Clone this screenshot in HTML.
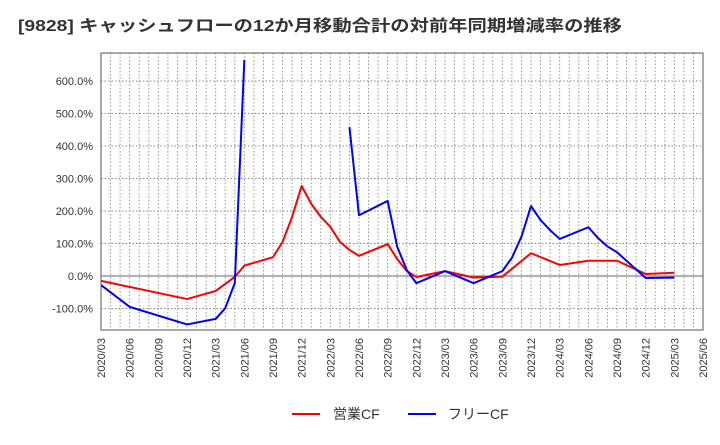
<!DOCTYPE html>
<html><head><meta charset="utf-8">
<style>
body{margin:0;background:#fff;width:720px;height:440px;overflow:hidden;font-family:"Liberation Sans","Noto Sans CJK JP",sans-serif;}
</style></head>
<body>
<svg id="chart" width="720" height="440" xmlns="http://www.w3.org/2000/svg" font-family="Liberation Sans, Noto Sans CJK JP, sans-serif">
<text x="18" y="31" font-size="16" font-weight="bold" fill="#333" textLength="604" lengthAdjust="spacingAndGlyphs">[9828]  キャッシュフローの12か月移動合計の対前年同期増減率の推移</text>
<g id="grid"></g>
<g id="series"></g>
<g id="axes"></g>
<g>
<line x1="292" y1="414" x2="320" y2="414" stroke="#f00" stroke-width="2"/>
<text x="333" y="419" font-size="14" fill="#333">営業CF</text>
<line x1="408" y1="414" x2="436" y2="414" stroke="#00f" stroke-width="2"/>
<text x="448" y="419" font-size="14" fill="#333">フリーCF</text>
</g>
</svg>
<script>
// month index 0 = 2020/03
const redMonths = [0,9,12,14,15,18,19,20,21,22,23,24,25,26,27,30,31,32,33,36,39,42,45,48,51,54,57,60];
const redValues = [-15,-71,-46,-3,32,58,105,182,277,222,182,151,105,80,62,98,52,15,-3,15,-5,-2,70,34,47,47,6,10];
const blueSeg1Months = [0,3,9,12,13,14,15];
const blueSeg1Values = [-28,-95,-149,-132,-99,-22,665];
const blueSeg2Months = [26,27,30,31,32,33,36,39,42,43,44,45,46,47,48,51,52,53,54,57,60];
const blueSeg2Values = [458,187,231,90,18,-22,15,-22,15,56,121,215,172,141,114,150,117,91,73,-6,-5];
const yTicks = [-100,0,100,200,300,400,500,600];
const xTickLabels = ["2020/03","2020/06","2020/09","2020/12","2021/03","2021/06","2021/09","2021/12","2022/03","2022/06","2022/09","2022/12","2023/03","2023/06","2023/09","2023/12","2024/03","2024/06","2024/09","2024/12","2025/03","2025/06"];

const L=101,R=703,T=53,B=330;
const xs = m => L + m*(R-L)/63;
const ys = v => 276 - v*0.325;
const NS="http://www.w3.org/2000/svg";
function mk(tag, attrs, parent){const e=document.createElementNS(NS,tag);for(const k in attrs)e.setAttribute(k,attrs[k]);parent.appendChild(e);return e;}
const grid=document.getElementById('grid'), series=document.getElementById('series'), axes=document.getElementById('axes');
mk('rect',{x:L,y:T,width:R-L,height:B-T,fill:'#fff'},grid);
for(let m=1;m<63;m++){
  const l=mk('line',{x1:xs(m),x2:xs(m),y1:T,y2:B,stroke:'#999','stroke-dasharray':'1.5,2','stroke-width':1},grid);
  
  
}
yTicks.forEach(v=>{
  const y=ys(v);
  const l=mk('line',{x1:L,x2:R,y1:y,y2:y,stroke:v===0?'#666':'#888','stroke-dasharray':v===0?'':'1.5,2','stroke-width':1},grid);
  
  
  const t=mk('text',{x:L-8,y:y+4,'text-anchor':'end','font-size':11,fill:'#333'},axes);
  t.textContent=v.toFixed(1)+'%';
  
  
});
xTickLabels.forEach((s,i)=>{
  const x=xs(i*3);
  const t=mk('text',{x:0,y:0,'text-anchor':'end','font-size':11,fill:'#333',transform:`translate(${x+4},${B+8}) rotate(-90)`},axes);
  t.textContent=s;
  
  
});
const frame=mk('rect',{x:L,y:T,width:R-L,height:B-T,fill:'none',stroke:'#555','stroke-width':1},axes);


function line(ms,vs,color,name){
  const p=mk('polyline',{points:ms.map((m,i)=>xs(m)+','+ys(vs[i])).join(' '),fill:'none',stroke:color,'stroke-width':2,'stroke-linejoin':'round'},series);
  
  
}
line(redMonths,redValues,'#f00','operating-cf-line');
line(blueSeg1Months,blueSeg1Values,'#00f','free-cf-line-segment-1');
line(blueSeg2Months,blueSeg2Values,'#00f','free-cf-line-segment-2');
</script>
</body></html>
